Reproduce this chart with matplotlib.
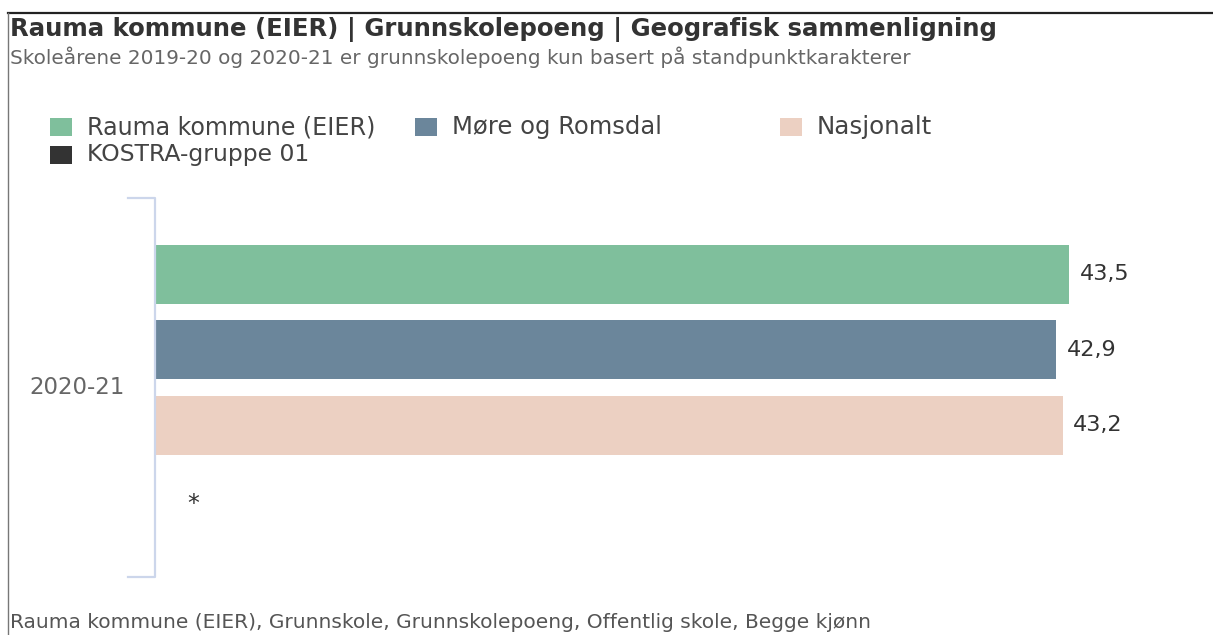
import matplotlib
matplotlib.use("Agg")
import matplotlib.pyplot as plt
from matplotlib.patches import Rectangle
from matplotlib.lines import Line2D

plt.rcParams['font.family'] = ['DejaVu Sans']

title = "Rauma kommune (EIER) | Grunnskolepoeng | Geografisk sammenligning"
subtitle = "Skoleårene 2019-20 og 2020-21 er grunnskolepoeng kun basert på standpunktkarakterer"
caption = "Rauma kommune (EIER), Grunnskole, Grunnskolepoeng, Offentlig skole, Begge kjønn"

categories = ["2020-21"]
series_names = ["Rauma kommune (EIER)", "Møre og Romsdal", "Nasjonalt", "KOSTRA-gruppe 01"]
series_values = [43.5, 42.9, 43.2, None]
series_colors = ["#7fbf9c", "#6b869b", "#ecd0c2", "#333333"]
value_labels = ["43,5", "42,9", "43,2", "*"]

W, H = 1213, 635
fig = plt.figure(figsize=(W / 100, H / 100), dpi=100)
renderer = fig.canvas.get_renderer()


def fx(px):
    return px / W


def fy(py):
    return 1 - py / H


def fit(t, target_w):
    """Scale font size so the text's rendered width matches target_w pixels."""
    fs = t.get_fontsize()
    w = t.get_window_extent(renderer).width
    t.set_fontsize(fs * target_w / w)
    return t


# Frame lines
fig.add_artist(Line2D([fx(8), 1], [fy(13), fy(13)], color="#222222", lw=1.6, transform=fig.transFigure))
fig.add_artist(Line2D([fx(8), fx(8)], [fy(13), 0], color="#777777", lw=1.0, transform=fig.transFigure))

# Titles
fit(fig.text(fx(10), fy(29), title, fontsize=15, fontweight="bold", color="#333333",
             va="center", ha="left"), 990)
fit(fig.text(fx(10), fy(57), subtitle, fontsize=11, color="#666666", va="center", ha="left"), 898)
fit(fig.text(fx(10), fy(623), caption, fontsize=11, color="#555555", va="center", ha="left"), 858)

# Legend (manual)
leg_pos = [(50, 127), (415, 127), (780, 127), (50, 155)]
leg_widths = [288, 210, 115, 223]
for (lx, ly), name, col, tw in zip(leg_pos, series_names, series_colors, leg_widths):
    fig.add_artist(Rectangle((fx(lx), fy(ly + 9)), 22 / W, 18 / H, transform=fig.transFigure,
                             facecolor=col, edgecolor="none"))
    fit(fig.text(fx(lx + 37), fy(ly), name, fontsize=14, color="#444444", va="center", ha="left"), tw)

# Axes: x=0 at px 156, y range -0.5..0.5 mapped to px 198..577
ax_left, ax_right = 156, 1206
ax_top, ax_bot = 198, 577
ax = fig.add_axes([fx(ax_left), fy(ax_bot), (ax_right - ax_left) / W, (ax_bot - ax_top) / H])
px_per_unit = (1069 - 156) / 43.5
ax.set_xlim(0, (ax_right - ax_left) / px_per_unit)
ax.set_ylim(0.5, -0.5)
ax.axis("off")

n = len(series_names)
slot = 0.199
bar_h = 0.155
for ci, cat in enumerate(categories):
    for i, (v, col, lab) in enumerate(zip(series_values, series_colors, value_labels)):
        y = ci + (i - (n - 1) / 2) * slot
        if v is not None:
            ax.barh(y, v, height=bar_h, color=col, edgecolor="none")
            fit(ax.text(v + 0.5, y, lab, fontsize=13, color="#333333", va="center", ha="left"), 50)
        else:
            ax.text(1.76, y + 0.008, lab, fontsize=17, color="#333333", va="center", ha="center")

# Category bracket and label
fig.add_artist(Line2D([fx(128), fx(155), fx(155), fx(128)],
                      [fy(198), fy(198), fy(577), fy(577)],
                      color="#ccd6eb", lw=1.6, transform=fig.transFigure))
fit(fig.text(fx(125), fy(388), categories[0], fontsize=13, color="#666666",
             va="center", ha="right"), 95)

fig.savefig("out.png", dpi=100, facecolor="white")
